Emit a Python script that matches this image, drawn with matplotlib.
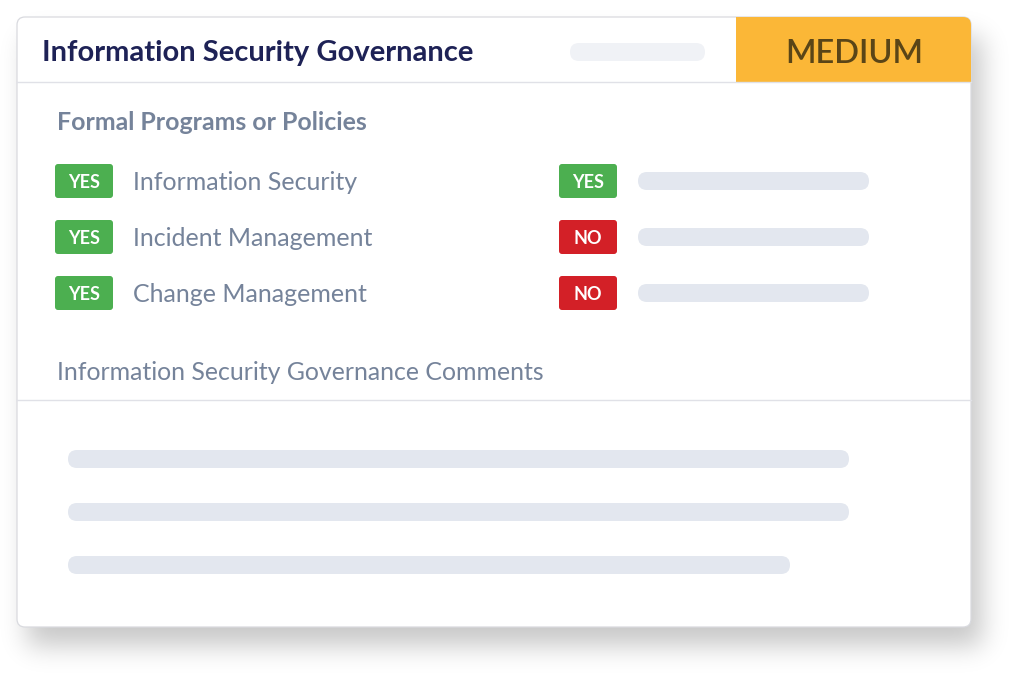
import numpy as np
import matplotlib.pyplot as plt
from matplotlib.patches import FancyBboxPatch, Rectangle

title = "Information Security Governance"
risk_level = "MEDIUM"
section_title = "Formal Programs or Policies"
programs = ["Information Security", "Incident Management", "Change Management"]
program_status = ["YES", "YES", "YES"]
policy_status = ["YES", "NO", "NO"]
comments_title = "Information Security Governance Comments"
comment_line_ends = [849, 849, 790]

W, H = 1018, 675
FONT = "Lato"
status_colors = {"YES": "#4caf50", "NO": "#d32027"}
label_color = "#75839a"
pill_color = "#e3e7ef"

fig = plt.figure(figsize=(W / 100, H / 100), dpi=100)
ax = fig.add_axes([0, 0, 1, 1])
ax.set_xlim(0, W)
ax.set_ylim(H, 0)
ax.axis("off")


def rbox(x0, y0, x1, y1, r, color, z=2, ec="none", lw=0):
    p = FancyBboxPatch((x0, y0), x1 - x0, y1 - y0,
                       boxstyle=f"round,pad=0,rounding_size={r}",
                       fc=color, ec=ec, lw=lw, zorder=z)
    ax.add_patch(p)
    return p


# card geometry
cx0, cy0, cx1, cy1 = 17, 17, 971, 627

# soft drop shadow
yy, xx = np.mgrid[0:H, 0:W]
mask = ((xx >= cx0 + 10) & (xx <= cx1 + 10) & (yy >= cy0 + 20) & (yy <= cy1 + 18)).astype(float)
sigma = 13
k = np.arange(-3 * sigma, 3 * sigma + 1)
kern = np.exp(-k ** 2 / (2 * sigma ** 2))
kern /= kern.sum()
mask = np.apply_along_axis(lambda r: np.convolve(r, kern, mode="same"), 1, mask)
mask = np.apply_along_axis(lambda c: np.convolve(c, kern, mode="same"), 0, mask)
shadow = np.zeros((H, W, 4))
shadow[..., 3] = mask * 0.22
ax.imshow(shadow, extent=[0, W, H, 0], zorder=0, interpolation="bilinear")

card = rbox(cx0, cy0, cx1, cy1, 8, "white", z=1, ec="#d9dadf", lw=0.9)

# header
hdr = Rectangle((736, cy0), cx1 - 736, 82 - cy0, fc="#fbb737", ec="none", zorder=2)
ax.add_patch(hdr)
hdr.set_clip_path(card)
ax.text(854, 51, risk_level, fontsize=23.5, family=FONT, weight="semibold", color="#5a4517",
        ha="center", va="center_baseline", zorder=3)
ax.text(42, 51, title, fontsize=21, family=FONT, weight="bold", color="#1e2256",
        ha="left", va="center_baseline", zorder=3)
rbox(570, 43, 705, 61, 9, "#f0f2f6")
ax.plot([cx0, cx1], [82, 82], color="#e0e1e7", lw=1, zorder=3)

ax.text(57, 120, section_title, fontsize=17.9, family=FONT, weight="bold", color=label_color,
        ha="left", va="center_baseline", zorder=3)

row_y = [181, 237, 293]
for y, lab, s1, s2 in zip(row_y, programs, program_status, policy_status):
    rbox(55, y - 17, 113, y + 17, 3, status_colors[s1])
    ax.text(84, y, s1, fontsize=13, family=FONT, weight="bold", color="white",
            ha="center", va="center_baseline", zorder=3)
    ax.text(133, y, lab, fontsize=18, family=FONT, color=label_color,
            ha="left", va="center_baseline", zorder=3)
    rbox(559, y - 17, 617, y + 17, 3, status_colors[s2])
    ax.text(588, y, s2, fontsize=13, family=FONT, weight="bold", color="white",
            ha="center", va="center_baseline", zorder=3)
    rbox(638, y - 9, 869, y + 9, 9, pill_color)

ax.text(57, 370, comments_title, fontsize=17.9, family=FONT, color=label_color,
        ha="left", va="center_baseline", zorder=3)
ax.plot([cx0, cx1], [400, 400], color="#e0e1e7", lw=1, zorder=3)

for y, x1 in zip([459, 512, 565], comment_line_ends):
    rbox(68, y - 9, x1, y + 9, 9, pill_color)

fig.savefig("out.png", dpi=100, facecolor="white")
